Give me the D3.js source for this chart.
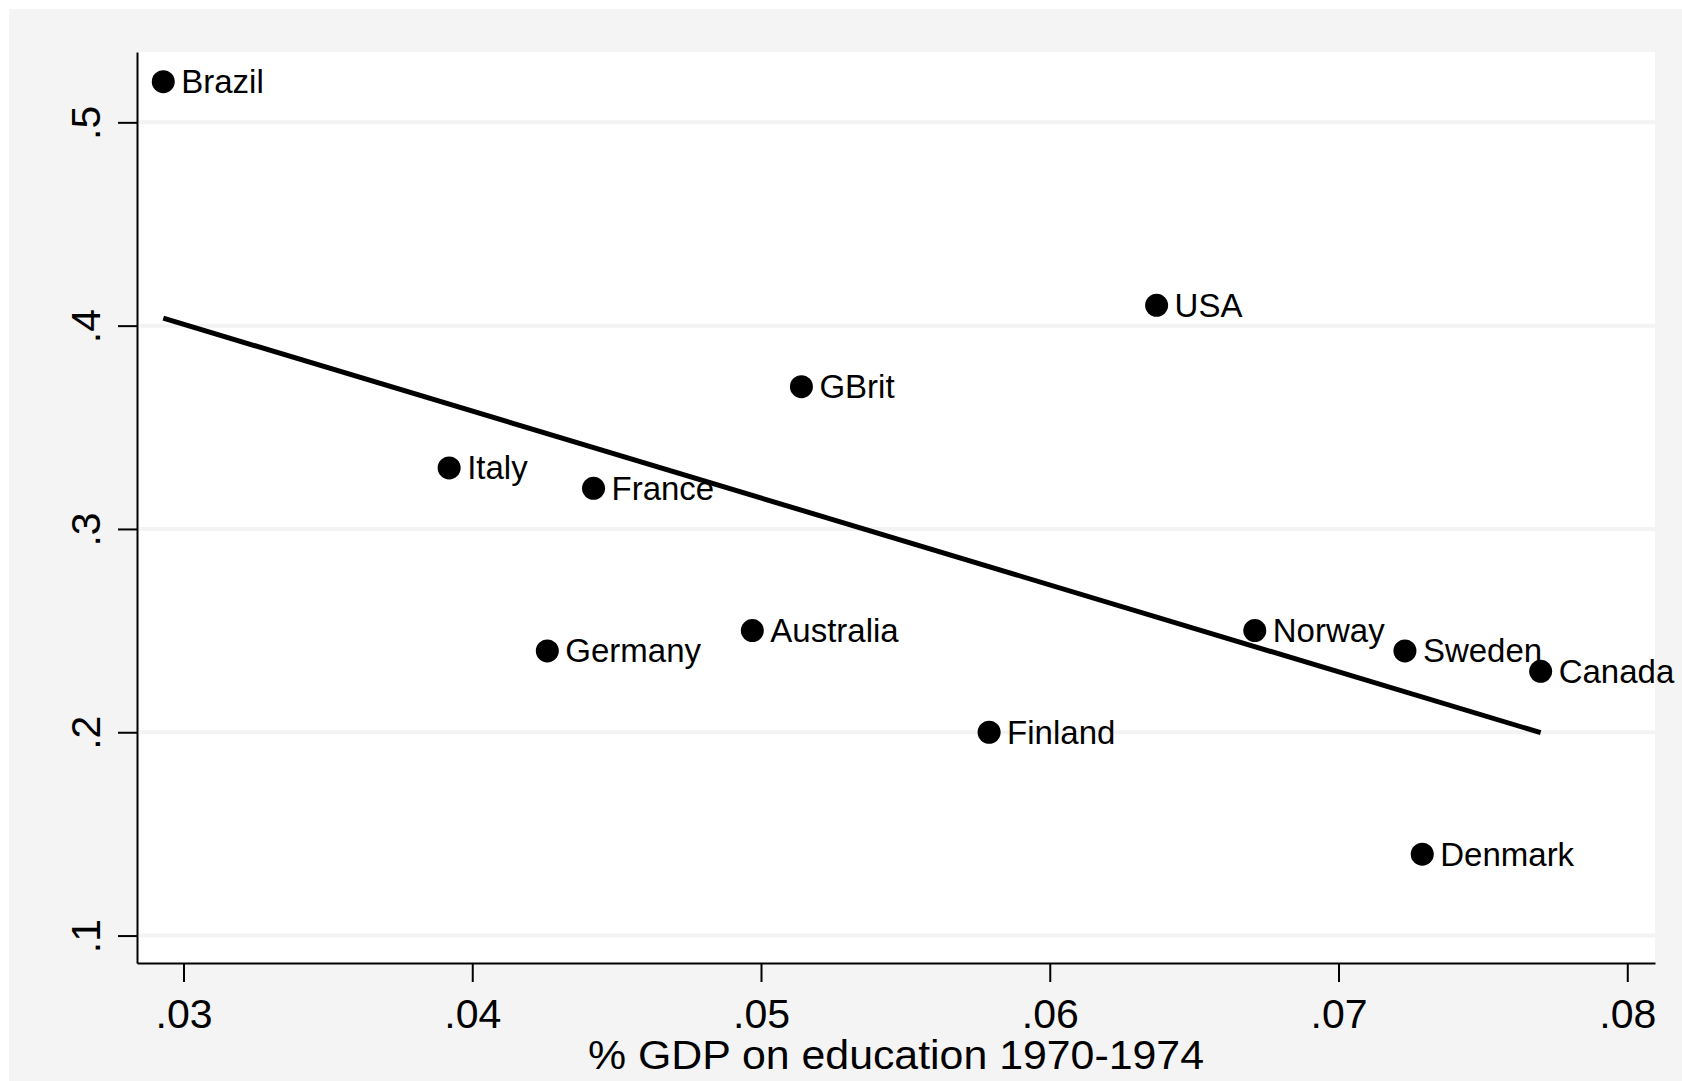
<!DOCTYPE html>
<html>
<head>
<meta charset="utf-8">
<script src="https://cdn.jsdelivr.net/npm/d3@7"></script>
<style>
  html, body { margin: 0; padding: 0; background: #ffffff; }
  svg { display: block; }
  text { font-family: "Liberation Sans", Arial, Helvetica, sans-serif; fill: #000; }
</style>
</head>
<body>
<svg id="chart" width="1682" height="1081"></svg>
<script>
// ---- data ----
const countries = ["Brazil", "Italy", "France", "Germany", "Australia", "GBrit",
                   "Finland", "USA", "Norway", "Sweden", "Denmark", "Canada"];
const gdpEducation = [0.0293, 0.0392, 0.0442, 0.0426, 0.0497, 0.0514,
                      0.0579, 0.0637, 0.0671, 0.0723, 0.0729, 0.0770];
const yValues = [0.52, 0.33, 0.32, 0.24, 0.25, 0.37,
                 0.20, 0.41, 0.25, 0.24, 0.14, 0.23];
// fitted line values at the smallest and largest x
const fitValues = [0.4037, 0.1998];

const xTicks = [0.03, 0.04, 0.05, 0.06, 0.07, 0.08];
const xTickLabels = [".03", ".04", ".05", ".06", ".07", ".08"];
const yTicks = [0.1, 0.2, 0.3, 0.4, 0.5];
const yTickLabels = [".1", ".2", ".3", ".4", ".5"];
const xTitle = "% GDP on education 1970-1974";

// ---- layout ----
const W = 1682, H = 1081;
const plot = { left: 137, right: 1655, top: 52, bottom: 963 };

const svg = d3.select("#chart");

// outer graph region (light gray) and plot region (white)
svg.append("rect").attr("x", 9).attr("y", 9)
   .attr("width", W - 9).attr("height", H - 9).attr("fill", "#f4f4f4");
svg.append("rect").attr("x", plot.left).attr("y", plot.top)
   .attr("width", plot.right - plot.left).attr("height", plot.bottom - plot.top)
   .attr("fill", "#ffffff");

const x = d3.scaleLinear().domain([0.02839, 0.08096]).range([plot.left, plot.right]);
const y = d3.scaleLinear().domain([0.0865, 0.5346]).range([plot.bottom, plot.top]);

// gridlines
svg.append("g").selectAll("line").data(yTicks).join("line")
   .attr("x1", plot.left + 2).attr("x2", plot.right)
   .attr("y1", d => y(d)).attr("y2", d => y(d))
   .attr("stroke", "#f3f3f3").attr("stroke-width", 4);

// y axis
const yAxis = d3.axisLeft(y).tickValues(yTicks)
  .tickFormat((d, i) => yTickLabels[i]).tickSize(19).tickSizeOuter(0);
const gy = svg.append("g").attr("transform", `translate(${plot.left},0)`).call(yAxis);
gy.select(".domain").attr("stroke", "#000").attr("stroke-width", 2);
gy.selectAll(".tick line").attr("stroke", "#000").attr("stroke-width", 2);
gy.selectAll(".tick text")
  .attr("font-size", 41).attr("font-family", null)
  .attr("text-anchor", "middle")
  .attr("transform", "rotate(-90)")
  .attr("x", 0).attr("y", -37).attr("dy", 0);

// x axis
const xAxis = d3.axisBottom(x).tickValues(xTicks)
  .tickFormat((d, i) => xTickLabels[i]).tickSize(19).tickSizeOuter(0);
const gx = svg.append("g").attr("transform", `translate(0,${plot.bottom})`).call(xAxis);
gx.select(".domain").attr("stroke", "#000").attr("stroke-width", 2);
gx.selectAll(".tick line").attr("stroke", "#000").attr("stroke-width", 2);
gx.selectAll(".tick text")
  .attr("font-size", 41).attr("font-family", null)
  .attr("y", 65).attr("dy", 0);

// x axis title
svg.append("text")
   .attr("x", (plot.left + plot.right) / 2).attr("y", 1069)
   .attr("text-anchor", "middle").attr("font-size", 40)
   .attr("textLength", 616).attr("lengthAdjust", "spacingAndGlyphs")
   .text(xTitle);

// fitted line
const xExt = d3.extent(gdpEducation);
const fitPts = [[xExt[0], fitValues[0]], [xExt[1], fitValues[1]]];
svg.append("path")
   .datum(fitPts)
   .attr("d", d3.line().x(d => x(d[0])).y(d => y(d[1])))
   .attr("fill", "none").attr("stroke", "#000").attr("stroke-width", 5);

// points + labels
const data = countries.map((c, i) => ({ name: c, gx: gdpEducation[i], gy: yValues[i] }));
const pts = svg.append("g");
pts.selectAll("circle").data(data).join("circle")
   .attr("cx", d => x(d.gx)).attr("cy", d => y(d.gy))
   .attr("r", 11.5).attr("fill", "#000");
pts.selectAll("text").data(data).join("text")
   .attr("x", d => x(d.gx) + 18).attr("y", d => y(d.gy) + 11.5)
   .attr("font-size", 33)
   .text(d => d.name);
</script>
</body>
</html>
